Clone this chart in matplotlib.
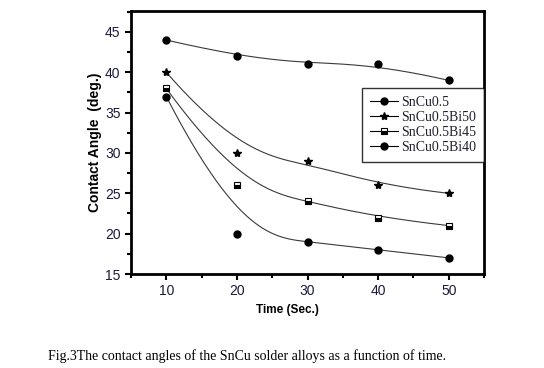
import numpy as np
import matplotlib
matplotlib.use("Agg")
import matplotlib.pyplot as plt
from matplotlib.ticker import MultipleLocator

time = [10, 20, 30, 40, 50]
sncu05 = [44, 42, 41, 41, 39]
bi50 = [40, 30, 29, 26, 25]
bi45 = [38, 26, 24, 22, 21]
bi40 = [37, 20, 19, 18, 17]
labels = ["SnCu0.5", "SnCu0.5Bi50", "SnCu0.5Bi45", "SnCu0.5Bi40"]


def bspline(xs, ys, n=300):
    P = np.column_stack([xs, ys]).astype(float)
    k = 3
    m = len(P)
    inner = np.linspace(0, 1, m - k + 1)
    t = np.concatenate([[0] * k, inner, [1] * k])
    u = np.linspace(0, 1, n)
    u[-1] = 1 - 1e-10

    def N(i, p, u):
        if p == 0:
            return np.where((t[i] <= u) & (u < t[i + 1]), 1.0, 0.0)
        a = 0.0
        if t[i + p] != t[i]:
            a = (u - t[i]) / (t[i + p] - t[i]) * N(i, p - 1, u)
        b = 0.0
        if t[i + p + 1] != t[i + 1]:
            b = (t[i + p + 1] - u) / (t[i + p + 1] - t[i + 1]) * N(i + 1, p - 1, u)
        return a + b

    B = np.array([N(i, k, u) for i in range(m)])
    C = B.T @ P
    return C[:, 0], C[:, 1]


fig = plt.figure(figsize=(5.44, 3.68), dpi=100)
ax = fig.add_axes([131 / 544, 1 - 274 / 368, (484 - 131) / 544, (274 - 11) / 368])

lc = "#3a3a3a"
series = [
    (sncu05, dict(marker="o", markersize=5, color="black")),
    (bi50, dict(marker="*", markersize=6, color="black")),
    (bi45, dict(marker="s", markersize=4.5, markerfacecolor="black",
                markerfacecoloralt="white", fillstyle="bottom",
                markeredgecolor="black", markeredgewidth=0.8)),
    (bi40, dict(marker="o", markersize=5, color="black")),
]
handles = []
for (ys, mk), lab in zip(series, labels):
    cx, cy = bspline(time, ys)
    ax.plot(cx, cy, color=lc, lw=0.8, zorder=2)
    ax.plot(time, ys, linestyle="none", zorder=3, **mk)
    h, = ax.plot([], [], color="black", lw=0.8,
                 **{k: v for k, v in mk.items() if k != "color"}, label=lab)
    handles.append(h)

ax.set_xlim(5, 55)
ax.set_ylim(15, 47.6)
ax.xaxis.set_major_locator(MultipleLocator(10))
ax.xaxis.set_minor_locator(MultipleLocator(5))
ax.yaxis.set_major_locator(MultipleLocator(5))
ax.yaxis.set_minor_locator(MultipleLocator(2.5))
ax.set_yticks([15, 20, 25, 30, 35, 40, 45])
ax.tick_params(which="both", direction="out", top=False, right=False,
               width=1.5, labelsize=10, labelcolor="#1a1a3a")
ax.tick_params(which="major", length=4)
ax.tick_params(which="minor", length=3)
for s in ax.spines.values():
    s.set_linewidth(2)
for lab in ax.get_xticklabels() + ax.get_yticklabels():
    lab.set_fontfamily("Liberation Sans")

ax.set_ylabel("Contact Angle  (deg.)", fontsize=10, fontweight="bold",
              family="Liberation Sans", labelpad=2)
fig.text(287 / 544, 1 - 310 / 368, "Time (Sec.)", fontsize=8.5, fontweight="bold",
         family="Liberation Sans", ha="center", va="center")

leg = ax.legend(handles=handles, loc="upper right", bbox_to_anchor=(1.0, (274 - 88) / 263),
                prop=dict(family="Liberation Serif", size=10), frameon=True,
                fancybox=False, edgecolor="black", borderaxespad=0, borderpad=0.55,
                handlelength=2.0, handletextpad=0.25, labelspacing=0.15)
leg.get_frame().set_linewidth(1.0)
for t in leg.get_texts():
    t.set_color("#202030")

fig.text(48 / 544, 1 - 356 / 368,
         "Fig.3The contact angles of the SnCu solder alloys as a function of time.",
         fontsize=10, family="Liberation Serif", ha="left", va="center")

fig.savefig("out.png", dpi=100)
